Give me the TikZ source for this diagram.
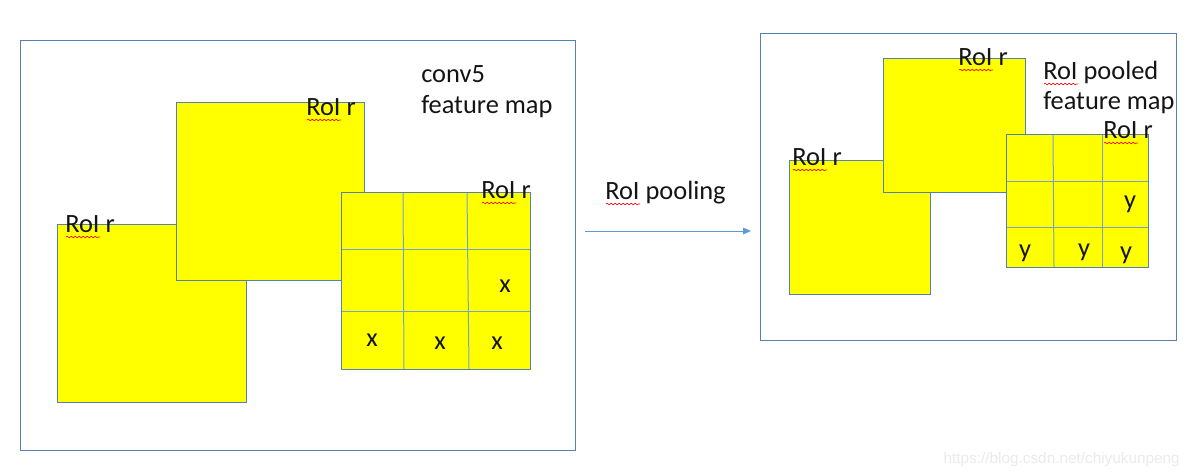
\documentclass[tikz,border=0pt]{standalone}
\usepackage{fontspec}
\setmainfont{Carlito}
\newfontfamily\wmfont{Liberation Sans}
\usetikzlibrary{arrows.meta,decorations.pathmorphing}
\definecolor{edge}{RGB}{84,128,180}
\definecolor{gridc}{RGB}{120,160,205}
\definecolor{arr}{RGB}{91,155,213}
\definecolor{fillY}{RGB}{255,255,0}
\definecolor{wm}{RGB}{234,234,234}
\definecolor{txt}{RGB}{20,20,20}
\tikzset{
  frame/.style={draw=edge, line width=0.75pt},
  roibox/.style={draw=edge, fill=fillY, line width=0.75pt},
  gline/.style={draw=gridc, line width=0.75pt},
  lbl/.style={anchor=base west, inner sep=0pt, text=txt, font=\fontsize{19.8}{24}\selectfont},
  cellmark/.style={anchor=base, inner sep=0pt, text=txt, font=\fontsize{19.8}{24}\selectfont},
  spell/.style={draw=red, line width=0.45pt, decorate, decoration={snake, segment length=3pt, amplitude=0.6pt}},
  flow/.style={draw=arr, line width=0.75pt, -{Triangle[length=6pt,width=5pt]}}
}
\begin{document}
\begin{tikzpicture}[x=0.75pt,y=-0.75pt]
\useasboundingbox (0,0) rectangle (1200,475);
% left frame
\draw[frame] (20,40) rectangle (575,450);
\draw[roibox] (57,224) rectangle (246,402);
\draw[roibox] (176,102) rectangle (364,280);
\draw[roibox] (341,192) rectangle (530,369);
\draw[gline] (403,192) -- (404,369);
\draw[gline] (467,192) -- (469,369);
\draw[gline] (341,249) -- (530,249);
\draw[gline] (341,311) -- (530,311);
\draw[frame] (341,192) rectangle (530,369);
\node[lbl] (l1) at (65,232) {RoI r};
\node[lbl] (l2) at (306,115) {RoI r};
\node[lbl] (l3) at (481,198) {RoI r};
\draw[spell] (66,237) -- (100,237);
\draw[spell] (307,120) -- (341,120);
\draw[spell] (482,203) -- (516,203);
\node[lbl] (c5) at (421,82) {conv5};
\node[lbl] (fm1) at (421,113) {feature map};
\node[cellmark] (x1) at (505,292) {x};
\node[cellmark] (x2) at (372,346) {x};
\node[cellmark] (x3) at (440,349) {x};
\node[cellmark] (x4) at (497,349) {x};
% arrow
\coordinate (as) at (585,231);
\coordinate (ae) at (751,231);
\draw[flow] (as) -- (ae);
\node[lbl] (rp) at (605,199) {RoI pooling};
\draw[spell] (606,204) -- (640,204);
% right frame
\draw[frame] (760,33) rectangle (1176,340);
\draw[roibox] (789,160) rectangle (930,294);
\draw[roibox] (883,58) rectangle (1025,192);
\draw[roibox] (1006,134) rectangle (1148,267);
\draw[gline] (1053,134) -- (1054,267);
\draw[gline] (1102,134) -- (1102,267);
\draw[gline] (1006,181) -- (1148,181);
\draw[gline] (1006,227) -- (1148,227);
\draw[frame] (1006,134) rectangle (1148,267);
\node[lbl] (r1) at (792,165) {RoI r};
\node[lbl] (r2) at (958,65) {RoI r};
\node[lbl] (r3) at (1103,138) {RoI r};
\draw[spell] (793,170) -- (827,170);
\draw[spell] (959,70) -- (993,70);
\draw[spell] (1104,143) -- (1138,143);
\node[lbl] (rpf) at (1043,79) {RoI pooled};
\node[lbl] (fm2) at (1043,109) {feature map};
\draw[spell] (1044,84) -- (1078,84);
\node[cellmark] (y1) at (1130,208) {y};
\node[cellmark] (y2) at (1025,257) {y};
\node[cellmark] (y3) at (1084,256) {y};
\node[cellmark] (y4) at (1126,259) {y};
% watermark
\node[anchor=base east, inner sep=0pt, text=wm, font=\wmfont\fontsize{11.5}{13}\selectfont] (wmk) at (1180,463) {https://blog.csdn.net/chiyukunpeng};
\end{tikzpicture}
\end{document}
